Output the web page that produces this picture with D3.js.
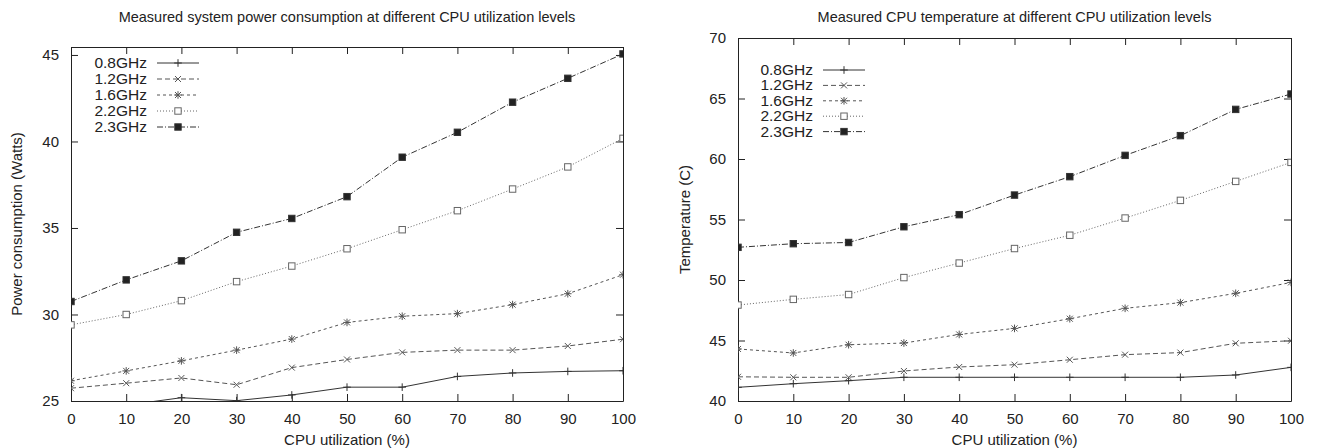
<!DOCTYPE html>
<html>
<head>
<meta charset="utf-8">
<script src="https://d3js.org/d3.v7.min.js"></script>
<style>
  body { margin: 0; background: #fff; }
  svg { display: block; font-family: "Liberation Sans", Arial, sans-serif; }
  .axis path, .axis line { stroke: #222; }
  .axis text { font-size: 15px; fill: #222; }
</style>
</head>
<body>
<script>
// CPU utilization levels (x axis)
var utilization = [0, 10, 20, 30, 40, 50, 60, 70, 80, 90, 100];
var freqLabels = ["0.8GHz", "1.2GHz", "1.6GHz", "2.2GHz", "2.3GHz"];

// power consumption (Watts)
var power08 = [24.7, 24.76, 25.19, 25.02, 25.35, 25.8, 25.8, 26.42, 26.62, 26.71, 26.75];
var power12 = [25.74, 26.03, 26.33, 25.94, 26.93, 27.4, 27.81, 27.94, 27.94, 28.18, 28.57];
var power16 = [26.17, 26.74, 27.32, 27.94, 28.58, 29.54, 29.9, 30.05, 30.57, 31.2, 32.3];
var power22 = [29.4, 30.0, 30.8, 31.9, 32.8, 33.8, 34.9, 36.0, 37.25, 38.53, 40.18];
var power23 = [30.75, 32.0, 33.1, 34.75, 35.55, 36.81, 39.09, 40.53, 42.27, 43.65, 45.06];

// CPU temperature (C)
var temp08 = [41.13, 41.43, 41.68, 41.96, 41.96, 41.96, 41.96, 41.96, 41.96, 42.15, 42.78];
var temp12 = [42.0, 41.96, 41.96, 42.48, 42.81, 43.0, 43.41, 43.83, 44.0, 44.77, 44.98];
var temp16 = [44.3, 43.97, 44.65, 44.79, 45.5, 46.0, 46.8, 47.66, 48.13, 48.9, 49.8];
var temp22 = [47.93, 48.4, 48.8, 50.2, 51.4, 52.6, 53.7, 55.12, 56.58, 58.15, 59.72];
var temp23 = [52.7, 53.0, 53.1, 54.4, 55.4, 57.02, 58.54, 60.3, 61.93, 64.1, 65.37];

var xTicks = [0, 10, 20, 30, 40, 50, 60, 70, 80, 90, 100];
var powerTicks = [25, 30, 35, 40, 45];
var tempTicks = [40, 45, 50, 55, 60, 65, 70];

// gnuplot-ish line styles, one per frequency
var styles = [
  { dash: null,      marker: "plus",    color: "#333" },
  { dash: "5,3",     marker: "cross",   color: "#555" },
  { dash: "3,3",     marker: "star",    color: "#555" },
  { dash: "1,2",     marker: "square",  color: "#666" },
  { dash: "6,2,1,2", marker: "fsquare", color: "#333" }
];

var svg = d3.select("body").append("svg")
  .attr("width", 1326).attr("height", 448);

function drawMarker(g, type, x, y, color) {
  var s = 3.8;
  if (type === "plus" || type === "star") {
    g.append("line").attr("x1", x - s).attr("x2", x + s).attr("y1", y).attr("y2", y);
    g.append("line").attr("x1", x).attr("x2", x).attr("y1", y - s).attr("y2", y + s);
  }
  if (type === "cross" || type === "star") {
    var c = 3;
    g.append("line").attr("x1", x - c).attr("x2", x + c).attr("y1", y - c).attr("y2", y + c);
    g.append("line").attr("x1", x - c).attr("x2", x + c).attr("y1", y + c).attr("y2", y - c);
  }
  if (type === "square") {
    g.append("rect").attr("x", x - 3.2).attr("y", y - 3.2).attr("width", 6.4).attr("height", 6.4)
      .attr("fill", "#fff");
  }
  if (type === "fsquare") {
    g.append("rect").attr("x", x - 3.2).attr("y", y - 3.2).attr("width", 6.4).attr("height", 6.4)
      .attr("fill", "#222");
  }
  g.selectAll("line,rect").attr("stroke", color).attr("stroke-width", 1);
}

function drawChart(opts) {
  var x = d3.scaleLinear().domain([0, 100]).range([opts.left, opts.right]);
  var y = d3.scaleLinear().domain(opts.yDomain).range([401, opts.top]);
  var g = svg.append("g");

  // title
  g.append("text")
    .attr("x", (opts.left + opts.right) / 2).attr("y", 22)
    .attr("text-anchor", "middle")
    .style("font-size", "14.5px").attr("fill", "#222")
    .text(opts.title);

  // axes with inward ticks, mirrored on top and right
  g.append("g").attr("class", "axis").attr("transform", "translate(0,401)")
    .call(d3.axisBottom(x).tickValues(xTicks).tickSizeInner(-7).tickSizeOuter(0).tickPadding(12));
  g.append("g").attr("class", "axis").attr("transform", "translate(0," + opts.top + ")")
    .call(d3.axisTop(x).tickValues(xTicks).tickSizeInner(-7).tickSizeOuter(0).tickFormat(""));
  g.append("g").attr("class", "axis").attr("transform", "translate(" + opts.left + ",0)")
    .call(d3.axisLeft(y).tickValues(opts.yTicks).tickSizeInner(-7).tickSizeOuter(0).tickPadding(12));
  g.append("g").attr("class", "axis").attr("transform", "translate(" + opts.right + ",0)")
    .call(d3.axisRight(y).tickValues(opts.yTicks).tickSizeInner(-7).tickSizeOuter(0).tickFormat(""));

  // axis labels
  g.append("text")
    .attr("x", (opts.left + opts.right) / 2).attr("y", 445)
    .attr("text-anchor", "middle").style("font-size", "15px").attr("fill", "#222")
    .text("CPU utilization (%)");
  g.append("text")
    .attr("transform", "translate(" + opts.yLabelX + "," + ((401 + opts.top) / 2) + ") rotate(-90)")
    .attr("text-anchor", "middle").style("font-size", "15px").attr("fill", "#222")
    .text(opts.yLabel);

  // clip series to the plot box
  var clipId = "clip" + opts.left;
  svg.append("clipPath").attr("id", clipId).append("rect")
    .attr("x", opts.left).attr("y", opts.top)
    .attr("width", opts.right - opts.left).attr("height", 401 - opts.top);

  var plot = g.append("g").attr("clip-path", "url(#" + clipId + ")");
  var line = d3.line().x(function(d) { return x(d[0]); }).y(function(d) { return y(d[1]); });

  opts.series.forEach(function(values, i) {
    var st = styles[i];
    var pts = utilization.map(function(u, j) { return [u, values[j]]; });
    plot.append("path").datum(pts)
      .attr("d", line).attr("fill", "none")
      .attr("stroke", st.color).attr("stroke-width", 1)
      .attr("stroke-dasharray", st.dash);
    pts.forEach(function(p) {
      drawMarker(plot.append("g"), st.marker, x(p[0]), y(p[1]), st.color);
    });

    // legend entry
    var ly = opts.legendY + i * opts.legendStep;
    g.append("text")
      .attr("x", opts.legendX).attr("y", ly + 5)
      .attr("text-anchor", "end").style("font-size", "15.5px").attr("fill", "#222")
      .text(freqLabels[i]);
    g.append("line")
      .attr("x1", opts.legendX + 10).attr("x2", opts.legendX + 52)
      .attr("y1", ly).attr("y2", ly)
      .attr("stroke", st.color).attr("stroke-width", 1)
      .attr("stroke-dasharray", st.dash);
    drawMarker(g.append("g"), st.marker, opts.legendX + 31, ly, st.color);
  });
}

drawChart({
  title: "Measured system power consumption at different CPU utilization levels",
  left: 71, right: 623, top: 47,
  yDomain: [25, 45.46], yTicks: powerTicks,
  yLabel: "Power consumption (Watts)", yLabelX: 22,
  series: [power08, power12, power16, power22, power23],
  legendX: 147, legendY: 63, legendStep: 16
});

drawChart({
  title: "Measured CPU temperature at different CPU utilization levels",
  left: 738, right: 1291, top: 38,
  yDomain: [40, 70], yTicks: tempTicks,
  yLabel: "Temperature (C)", yLabelX: 690,
  series: [temp08, temp12, temp16, temp22, temp23],
  legendX: 813, legendY: 70, legendStep: 15.4
});
</script>
</body>
</html>
